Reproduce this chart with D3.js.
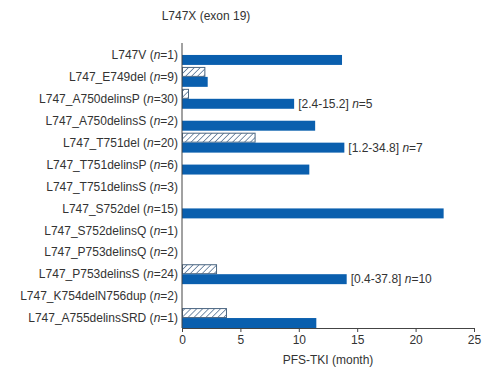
<!DOCTYPE html>
<html>
<head>
<meta charset="utf-8">
<script src="https://cdn.jsdelivr.net/npm/d3@7"></script>
<style>
  html, body { margin: 0; padding: 0; background: #fff; }
  svg { display: block; font-family: "Liberation Sans", Arial, sans-serif; }
</style>
</head>
<body>
<svg id="chart" width="495" height="374"></svg>
<script>
// Mutation subtypes (top to bottom) with patient counts
const mutations = ["L747V", "L747_E749del", "L747_A750delinsP", "L747_A750delinsS",
  "L747_T751del", "L747_T751delinsP", "L747_T751delinsS", "L747_S752del",
  "L747_S752delinsQ", "L747_P753delinsQ", "L747_P753delinsS", "L747_K754delN756dup",
  "L747_A755delinsSRD"];
const counts = [1, 9, 30, 2, 20, 6, 3, 15, 1, 2, 24, 2, 1];

// Median PFS on TKI (months); null = no bar
const pfsMedian = [13.7, 2.2, 9.6, 11.4, 13.9, 10.9, null, 22.4, null, null, 14.1, null, 11.5];
// Hatched series (months); null = no bar
const pfsHatched = [null, 2.0, 0.6, null, 6.3, null, null, null, null, null, 3.0, null, 3.85];

// Range annotations next to the median bars
const rangeLabels = [null, null, "[2.4-15.2]", null, "[1.2-34.8]", null, null, null, null, null, "[0.4-37.8]", null, null];
const rangeN = [null, null, 5, null, 7, null, null, null, null, null, 10, null, null];

const xTicks = [0, 5, 10, 15, 20, 25];

const blue = "#0a5fae";
const hatchStroke = "#4a6580";
const textColor = "#333";
const fs = 12;

const margin = { left: 182, right: 21, top: 43, bottom: 46 };
const W = 495, H = 374;

const svg = d3.select("#chart");
svg.append("rect").attr("width", W).attr("height", H).attr("fill", "#fff");

const defs = svg.append("defs");
const pat = defs.append("pattern")
  .attr("id", "hatch")
  .attr("patternUnits", "userSpaceOnUse")
  .attr("width", 4.2).attr("height", 4.2)
  .attr("patternTransform", "rotate(45)");
pat.append("rect").attr("width", 4.2).attr("height", 4.2).attr("fill", "#fff");
pat.append("line")
  .attr("x1", 0).attr("y1", 0).attr("x2", 0).attr("y2", 4.2)
  .attr("stroke", "#5f7a99").attr("stroke-width", 1.6);

const x = d3.scaleLinear().domain([0, 25]).range([margin.left, W - margin.right]);
const y = d3.scaleBand().domain(mutations).range([margin.top, H - margin.bottom]).padding(0);
const sub = d3.scaleBand().domain(["hatched", "median"]).range([2, y.bandwidth()]).padding(0);

const rows = mutations.map((m, i) => ({
  m, n: counts[i], med: pfsMedian[i], hat: pfsHatched[i],
  range: rangeLabels[i], rn: rangeN[i]
}));

// Hatched bars
svg.append("g").selectAll("rect")
  .data(rows.filter(d => d.hat != null))
  .join("rect")
  .attr("x", x(0) + 0.5)
  .attr("y", d => y(d.m) + sub("hatched") + 0.5)
  .attr("width", d => x(d.hat) - x(0) - 1)
  .attr("height", sub.bandwidth() - 1)
  .attr("fill", "url(#hatch)")
  .attr("stroke", hatchStroke)
  .attr("stroke-width", 1);

// Median bars
svg.append("g").selectAll("rect")
  .data(rows.filter(d => d.med != null))
  .join("rect")
  .attr("x", x(0))
  .attr("y", d => y(d.m) + sub("median"))
  .attr("width", d => x(d.med) - x(0))
  .attr("height", sub.bandwidth())
  .attr("fill", blue);

// Range annotations
const ann = svg.append("g").selectAll("text")
  .data(rows.filter(d => d.range != null))
  .join("text")
  .attr("x", d => x(d.med) + 4)
  .attr("y", d => y(d.m) + sub("median") + sub.bandwidth() / 2)
  .attr("dy", "0.35em")
  .attr("font-size", fs)
  .attr("fill", textColor);
ann.append("tspan").text(d => d.range + " ");
ann.append("tspan").attr("font-style", "italic").text("n");
ann.append("tspan").text(d => "=" + d.rn);

// Category labels
const lab = svg.append("g").selectAll("text")
  .data(rows)
  .join("text")
  .attr("x", margin.left - 4)
  .attr("y", d => y(d.m) + y.bandwidth() / 2 + 1)
  .attr("dy", "0.35em")
  .attr("text-anchor", "end")
  .attr("font-size", fs)
  .attr("fill", textColor);
lab.append("tspan").text(d => d.m + " (");
lab.append("tspan").attr("font-style", "italic").text("n");
lab.append("tspan").text(d => "=" + d.n + ")");

// Y axis line
svg.append("line")
  .attr("x1", x(0)).attr("x2", x(0))
  .attr("y1", margin.top).attr("y2", H - margin.bottom)
  .attr("stroke", "#444").attr("stroke-width", 1);

// X axis
const xAxis = svg.append("g")
  .attr("transform", `translate(0,${H - margin.bottom})`)
  .call(d3.axisBottom(x).tickValues(xTicks).tickSize(4).tickPadding(3));
xAxis.select(".domain").attr("stroke", "#444");
xAxis.selectAll(".tick line").attr("stroke", "#444");
xAxis.selectAll(".tick text")
  .attr("font-size", fs)
  .attr("font-family", "Liberation Sans, Arial, sans-serif")
  .attr("fill", textColor);

// Titles
svg.append("text")
  .attr("x", 206).attr("y", 20)
  .attr("text-anchor", "middle")
  .attr("font-size", fs)
  .attr("fill", textColor)
  .text("L747X (exon 19)");

svg.append("text")
  .attr("x", (x(0) + x(25)) / 2).attr("y", 364)
  .attr("text-anchor", "middle")
  .attr("font-size", fs)
  .attr("fill", textColor)
  .text("PFS-TKI (month)");
</script>
</body>
</html>
